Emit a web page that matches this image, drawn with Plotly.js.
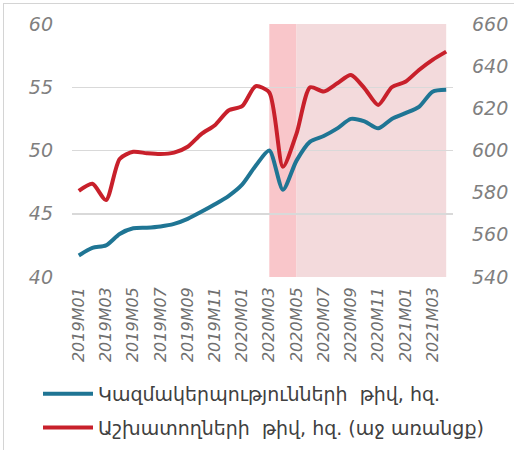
<!DOCTYPE html>
<html><head><meta charset="utf-8">
<script src="https://cdn.plot.ly/plotly-3.0.1.min.js"></script>
<style>
html,body{margin:0;padding:0;background:#fff;}
#wrap{position:absolute;left:0;top:0;width:514px;height:450px;}
#frame{position:absolute;left:3px;top:3px;width:520px;height:460px;border-left:1px solid #d4d4d4;border-top:1px solid #d4d4d4;pointer-events:none;}
#chart{position:absolute;left:0;top:0;width:514px;height:450px;}
</style></head>
<body><div id="wrap"><div id="chart"></div><div id="frame"></div></div>
<script>
const months = ["2019M01","2019M02","2019M03","2019M04","2019M05","2019M06","2019M07","2019M08","2019M09","2019M10","2019M11","2019M12",
"2020M01","2020M02","2020M03","2020M04","2020M05","2020M06","2020M07","2020M08","2020M09","2020M10","2020M11","2020M12",
"2021M01","2021M02","2021M03","2021M04"];
const tickLabels = ["2019M01","2019M03","2019M05","2019M07","2019M09","2019M11","2020M01","2020M03","2020M05","2020M07","2020M09","2020M11","2021M01","2021M03"];
const organizations = [41.7,42.3,42.5,43.4,43.85,43.9,44.0,44.2,44.6,45.15,45.75,46.4,47.3,48.8,50.0,46.9,49.2,50.7,51.15,51.75,52.5,52.3,51.75,52.5,52.95,53.45,54.65,54.8];
const workers = [580.8,584.2,576.5,596.0,599.4,598.7,598.3,599.0,601.8,607.8,612.0,619.0,621.0,630.5,627.5,592.3,608.0,630.0,628.0,631.9,635.8,629.5,621.6,630.0,632.6,638.2,643.0,646.9];
const shadeStrong = ["2020M03","2020M05"];
const shadeLight = ["2020M05","2021M04"];
const legendNames = ["Կազմակերպությունների  թիվ, հզ.","Աշխատողների  թիվ, հզ. (աջ առանցք)"];

const idx = m => months.indexOf(m);
const tickFont = {family:"DejaVu Sans, sans-serif", size:19, color:"#7f7f7f", style:"italic"};

const traces = [
 {x:months, y:organizations, name:legendNames[0], type:"scatter", mode:"lines", yaxis:"y", legendgroup:"a",
  line:{color:"#1f7594", width:4, shape:"spline", smoothing:0.7}},
 {x:months, y:workers, name:legendNames[1], type:"scatter", mode:"lines", yaxis:"y2", legendgroup:"b",
  line:{color:"#c8202b", width:4, shape:"spline", smoothing:0.7}}
];

const layout = {
 width:514, height:450, margin:{l:72, r:61, t:24, b:173, autoexpand:false},
 paper_bgcolor:"rgba(0,0,0,0)", plot_bgcolor:"rgba(0,0,0,0)",
 showlegend:true,
 legend:{x:38/514, xref:"container", y:1-375/450, yref:"container", xanchor:"left", yanchor:"top",
   orientation:"v", font:{family:"DejaVu Sans, sans-serif", size:19, color:"#404040"},
   itemwidth:50, tracegroupgap:6, bgcolor:"rgba(0,0,0,0)", borderwidth:0},
 xaxis:{type:"category", categoryorder:"array", categoryarray:months,
   range:[-0.5, months.length-0.5], showgrid:false, zeroline:false,
   tickmode:"array", tickvals:tickLabels, ticktext:tickLabels, tickangle:-90,
   ticks:"", showline:false, ticklabelstandoff:6,
   tickfont:{family:"DejaVu Sans, sans-serif", size:16, color:"#6f6f6f", style:"italic"}},
 yaxis:{range:[40,60], dtick:5, tick0:40, showgrid:true, gridcolor:"#d9d9d9", gridwidth:1.5,
   zeroline:false, showline:false, ticks:"", tickfont:tickFont, ticklabelstandoff:18},
 yaxis2:{range:[540,660], dtick:20, tick0:540, overlaying:"y", side:"right", showgrid:false,
   zeroline:false, showline:false, ticks:"", tickfont:tickFont, ticklabelstandoff:18},
 shapes:[
  {type:"rect", xref:"x", yref:"paper", x0:idx(shadeStrong[0]), x1:idx(shadeStrong[1]), y0:0, y1:1,
   fillcolor:"#f9c6ca", line:{width:0}, layer:"below"},
  {type:"rect", xref:"x", yref:"paper", x0:idx(shadeLight[0]), x1:idx(shadeLight[1]), y0:0, y1:1,
   fillcolor:"#f3dadc", line:{width:0}, layer:"below"}
 ]
};
Plotly.newPlot("chart", traces, layout, {staticPlot:true, displayModeBar:false});
</script></body></html>
